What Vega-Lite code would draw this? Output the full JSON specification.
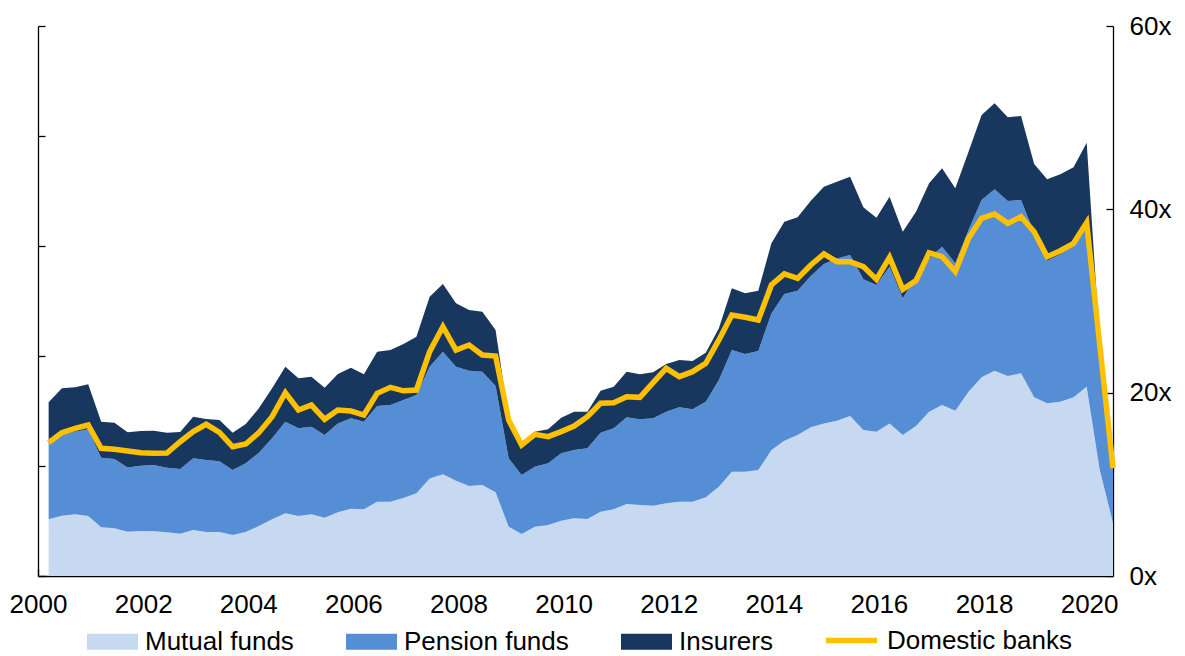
{
  "$schema": "https://vega.github.io/schema/vega-lite/v6.json",
  "width": 1075,
  "height": 550,
  "autosize": {"type": "none"},
  "padding": {"left": 38, "top": 26, "right": 72, "bottom": 80},
  "background": "white",
  "config": {
    "view": {"stroke": null},
    "font": "Liberation Sans",
    "axis": {"domainColor": "black", "tickColor": "black", "labelColor": "black", "labelFontSize": 26, "labelFont": "Liberation Sans", "grid": false, "domainWidth": 1.3, "tickWidth": 1.3},
    "legend": {"labelFont": "Liberation Sans", "labelFontSize": 26, "labelColor": "black", "padding": 0, "labelLimit": 0}
  },
  "data": {"values": [
    {"date":"2000-03-15","Mutual funds":6.18,"Pension funds":8.29,"Insurers":4.48,"Domestic banks":14.55},
    {"date":"2000-06-15","Mutual funds":6.58,"Pension funds":8.8,"Insurers":5.09,"Domestic banks":15.64},
    {"date":"2000-09-15","Mutual funds":6.73,"Pension funds":9.02,"Insurers":4.83,"Domestic banks":16.11},
    {"date":"2000-12-15","Mutual funds":6.55,"Pension funds":9.45,"Insurers":4.91,"Domestic banks":16.47},
    {"date":"2001-03-15","Mutual funds":5.31,"Pension funds":7.6,"Insurers":3.93,"Domestic banks":13.93},
    {"date":"2001-06-15","Mutual funds":5.2,"Pension funds":7.56,"Insurers":3.97,"Domestic banks":13.82},
    {"date":"2001-09-15","Mutual funds":4.84,"Pension funds":7.01,"Insurers":3.82,"Domestic banks":13.64},
    {"date":"2001-12-15","Mutual funds":4.91,"Pension funds":7.13,"Insurers":3.78,"Domestic banks":13.45},
    {"date":"2002-03-15","Mutual funds":4.87,"Pension funds":7.24,"Insurers":3.74,"Domestic banks":13.38},
    {"date":"2002-06-15","Mutual funds":4.76,"Pension funds":7.06,"Insurers":3.82,"Domestic banks":13.42},
    {"date":"2002-09-15","Mutual funds":4.62,"Pension funds":7.05,"Insurers":4.04,"Domestic banks":14.65},
    {"date":"2002-12-15","Mutual funds":5.02,"Pension funds":7.82,"Insurers":4.54,"Domestic banks":15.75},
    {"date":"2003-03-15","Mutual funds":4.8,"Pension funds":7.85,"Insurers":4.48,"Domestic banks":16.55},
    {"date":"2003-06-15","Mutual funds":4.8,"Pension funds":7.71,"Insurers":4.51,"Domestic banks":15.67},
    {"date":"2003-09-15","Mutual funds":4.47,"Pension funds":7.09,"Insurers":4.08,"Domestic banks":14.1},
    {"date":"2003-12-15","Mutual funds":4.8,"Pension funds":7.49,"Insurers":4.29,"Domestic banks":14.4},
    {"date":"2004-03-15","Mutual funds":5.45,"Pension funds":8.0,"Insurers":4.84,"Domestic banks":15.64},
    {"date":"2004-06-15","Mutual funds":6.18,"Pension funds":8.84,"Insurers":5.45,"Domestic banks":17.38},
    {"date":"2004-09-15","Mutual funds":6.84,"Pension funds":10.0,"Insurers":6.0,"Domestic banks":20.0},
    {"date":"2004-12-15","Mutual funds":6.55,"Pension funds":9.56,"Insurers":5.45,"Domestic banks":18.11},
    {"date":"2005-03-15","Mutual funds":6.73,"Pension funds":9.56,"Insurers":5.46,"Domestic banks":18.65},
    {"date":"2005-06-15","Mutual funds":6.36,"Pension funds":9.02,"Insurers":5.17,"Domestic banks":17.09},
    {"date":"2005-09-15","Mutual funds":6.95,"Pension funds":9.7,"Insurers":5.39,"Domestic banks":18.11},
    {"date":"2005-12-15","Mutual funds":7.35,"Pension funds":9.85,"Insurers":5.53,"Domestic banks":18.0},
    {"date":"2006-03-15","Mutual funds":7.27,"Pension funds":9.57,"Insurers":5.16,"Domestic banks":17.56},
    {"date":"2006-06-15","Mutual funds":8.11,"Pension funds":10.44,"Insurers":5.92,"Domestic banks":19.93},
    {"date":"2006-09-15","Mutual funds":8.11,"Pension funds":10.54,"Insurers":6.0,"Domestic banks":20.58},
    {"date":"2006-12-15","Mutual funds":8.5,"Pension funds":10.7,"Insurers":6.1,"Domestic banks":20.2},
    {"date":"2007-03-15","Mutual funds":9.02,"Pension funds":10.73,"Insurers":6.36,"Domestic banks":20.29},
    {"date":"2007-06-15","Mutual funds":10.65,"Pension funds":12.19,"Insurers":7.63,"Domestic banks":24.47},
    {"date":"2007-09-15","Mutual funds":11.09,"Pension funds":13.38,"Insurers":7.38,"Domestic banks":27.2},
    {"date":"2007-12-15","Mutual funds":10.4,"Pension funds":12.44,"Insurers":6.91,"Domestic banks":24.65},
    {"date":"2008-03-15","Mutual funds":9.82,"Pension funds":12.58,"Insurers":6.62,"Domestic banks":25.2},
    {"date":"2008-06-15","Mutual funds":9.93,"Pension funds":12.36,"Insurers":6.55,"Domestic banks":24.11},
    {"date":"2008-09-15","Mutual funds":9.13,"Pension funds":11.6,"Insurers":6.11,"Domestic banks":24.0},
    {"date":"2008-12-15","Mutual funds":5.38,"Pension funds":7.46,"Insurers":4.36,"Domestic banks":17.02},
    {"date":"2009-03-15","Mutual funds":4.58,"Pension funds":6.44,"Insurers":3.45,"Domestic banks":14.29},
    {"date":"2009-06-15","Mutual funds":5.38,"Pension funds":6.55,"Insurers":3.82,"Domestic banks":15.45},
    {"date":"2009-09-15","Mutual funds":5.56,"Pension funds":6.73,"Insurers":3.71,"Domestic banks":15.2},
    {"date":"2009-12-15","Mutual funds":6.04,"Pension funds":7.34,"Insurers":3.89,"Domestic banks":15.75},
    {"date":"2010-03-15","Mutual funds":6.29,"Pension funds":7.46,"Insurers":4.18,"Domestic banks":16.36},
    {"date":"2010-06-15","Mutual funds":6.22,"Pension funds":7.71,"Insurers":4.0,"Domestic banks":17.38},
    {"date":"2010-09-15","Mutual funds":7.02,"Pension funds":8.62,"Insurers":4.58,"Domestic banks":18.84},
    {"date":"2010-12-15","Mutual funds":7.27,"Pension funds":8.84,"Insurers":4.54,"Domestic banks":18.91},
    {"date":"2011-03-15","Mutual funds":7.85,"Pension funds":9.46,"Insurers":4.98,"Domestic banks":19.56},
    {"date":"2011-06-15","Mutual funds":7.75,"Pension funds":9.34,"Insurers":4.91,"Domestic banks":19.49},
    {"date":"2011-09-15","Mutual funds":7.67,"Pension funds":9.53,"Insurers":5.02,"Domestic banks":21.09},
    {"date":"2011-12-15","Mutual funds":7.93,"Pension funds":10.0,"Insurers":5.2,"Domestic banks":22.65},
    {"date":"2012-03-15","Mutual funds":8.11,"Pension funds":10.29,"Insurers":5.16,"Domestic banks":21.75},
    {"date":"2012-06-15","Mutual funds":8.11,"Pension funds":10.07,"Insurers":5.27,"Domestic banks":22.29},
    {"date":"2012-09-15","Mutual funds":8.58,"Pension funds":10.44,"Insurers":5.34,"Domestic banks":23.2},
    {"date":"2012-12-15","Mutual funds":9.75,"Pension funds":11.63,"Insurers":5.64,"Domestic banks":25.75},
    {"date":"2013-03-15","Mutual funds":11.38,"Pension funds":13.27,"Insurers":6.73,"Domestic banks":28.47},
    {"date":"2013-06-15","Mutual funds":11.38,"Pension funds":12.84,"Insurers":6.62,"Domestic banks":28.22},
    {"date":"2013-09-15","Mutual funds":11.56,"Pension funds":12.99,"Insurers":6.58,"Domestic banks":27.93},
    {"date":"2013-12-15","Mutual funds":13.75,"Pension funds":14.9,"Insurers":7.64,"Domestic banks":31.75},
    {"date":"2014-03-15","Mutual funds":14.76,"Pension funds":16.0,"Insurers":7.89,"Domestic banks":32.95},
    {"date":"2014-06-15","Mutual funds":15.38,"Pension funds":15.75,"Insurers":8.0,"Domestic banks":32.47},
    {"date":"2014-09-15","Mutual funds":16.22,"Pension funds":16.51,"Insurers":8.22,"Domestic banks":33.93},
    {"date":"2014-12-15","Mutual funds":16.65,"Pension funds":17.39,"Insurers":8.43,"Domestic banks":35.13},
    {"date":"2015-03-15","Mutual funds":16.95,"Pension funds":17.7,"Insurers":8.37,"Domestic banks":34.29},
    {"date":"2015-06-15","Mutual funds":17.45,"Pension funds":17.57,"Insurers":8.54,"Domestic banks":34.29},
    {"date":"2015-09-15","Mutual funds":15.93,"Pension funds":16.43,"Insurers":7.86,"Domestic banks":33.75},
    {"date":"2015-12-15","Mutual funds":15.75,"Pension funds":16.0,"Insurers":7.34,"Domestic banks":32.36},
    {"date":"2016-03-15","Mutual funds":16.65,"Pension funds":17.1,"Insurers":7.63,"Domestic banks":34.76},
    {"date":"2016-06-15","Mutual funds":15.38,"Pension funds":14.91,"Insurers":7.27,"Domestic banks":31.27},
    {"date":"2016-09-15","Mutual funds":16.36,"Pension funds":16.29,"Insurers":7.1,"Domestic banks":32.22},
    {"date":"2016-12-15","Mutual funds":17.93,"Pension funds":16.72,"Insurers":8.19,"Domestic banks":35.27},
    {"date":"2017-03-15","Mutual funds":18.65,"Pension funds":17.28,"Insurers":8.54,"Domestic banks":34.85},
    {"date":"2017-06-15","Mutual funds":18.04,"Pension funds":16.07,"Insurers":8.18,"Domestic banks":33.2},
    {"date":"2017-09-15","Mutual funds":20.11,"Pension funds":17.64,"Insurers":8.54,"Domestic banks":36.84},
    {"date":"2017-12-15","Mutual funds":21.67,"Pension funds":19.35,"Insurers":9.27,"Domestic banks":39.02},
    {"date":"2018-03-15","Mutual funds":22.4,"Pension funds":19.78,"Insurers":9.38,"Domestic banks":39.49},
    {"date":"2018-06-15","Mutual funds":21.82,"Pension funds":19.09,"Insurers":9.13,"Domestic banks":38.47},
    {"date":"2018-09-15","Mutual funds":22.11,"Pension funds":18.91,"Insurers":9.16,"Domestic banks":39.2},
    {"date":"2018-12-15","Mutual funds":19.49,"Pension funds":17.89,"Insurers":7.57,"Domestic banks":37.56},
    {"date":"2019-03-15","Mutual funds":18.84,"Pension funds":15.56,"Insurers":8.87,"Domestic banks":34.84},
    {"date":"2019-06-15","Mutual funds":19.02,"Pension funds":16.08,"Insurers":8.72,"Domestic banks":35.49},
    {"date":"2019-09-15","Mutual funds":19.49,"Pension funds":16.51,"Insurers":8.58,"Domestic banks":36.29},
    {"date":"2019-12-15","Mutual funds":20.65,"Pension funds":17.65,"Insurers":8.97,"Domestic banks":38.55},
    {"date":"2020-03-15","Mutual funds":11.56,"Pension funds":12.94,"Insurers":1.0,"Domestic banks":25.2},
    {"date":"2020-06-15","Mutual funds":5.78,"Pension funds":6.12,"Insurers":0,"Domestic banks":11.75}
  ]},
  "layer": [
    {
      "transform": [
        {"fold": ["Mutual funds", "Pension funds", "Insurers"], "as": ["series", "v"]},
        {"calculate": "indexof(['Mutual funds','Pension funds','Insurers'], datum.series)", "as": "ord"}
      ],
      "mark": {"type": "area", "interpolate": "linear"},
      "encoding": {
        "x": {
          "field": "date", "type": "temporal",
          "scale": {"type": "utc", "domain": [{"year": 2000, "month": 1, "date": 1, "utc": true}, {"year": 2020, "month": 6, "date": 15, "utc": true}]},
          "axis": {"orient": "bottom", "title": null, "tickCount": {"interval": "year", "step": 1}, "labelExpr": "utcyear(datum.value) % 2 === 0 ? utcFormat(datum.value, '%Y') : ''", "tickSize": -7, "labelPadding": 22, "labelOverlap": false, "labelFlush": false}
        },
        "y": {
          "field": "v", "type": "quantitative", "stack": "zero",
          "scale": {"domain": [0, 60]},
          "axis": {"orient": "left", "title": null, "values": [0, 12, 24, 36, 48, 60], "labels": false, "tickSize": -7}
        },
        "fill": {
          "field": "series", "type": "nominal",
          "scale": {"domain": ["Mutual funds", "Pension funds", "Insurers"], "range": ["#C6D9F1", "#558ED5", "#17375E"]},
          "legend": {"orient": "none", "legendX": 49, "legendY": 590, "direction": "horizontal", "title": null, "symbolType": "M-1,-0.314H1V0.314H-1Z", "symbolSize": 2601, "symbolStrokeWidth": 0, "symbolOpacity": 1, "columnPadding": 52, "labelOffset": 7}
        },
        "order": {"field": "ord", "type": "quantitative", "sort": "ascending"}
      }
    },
    {
      "mark": {"type": "line", "strokeWidth": 5.5, "color": "#FFC000"},
      "encoding": {
        "x": {"field": "date", "type": "temporal"},
        "y": {
          "field": "Domestic banks", "type": "quantitative",
          "axis": {"orient": "right", "title": null, "values": [0, 20, 40, 60], "labelExpr": "datum.value + 'x'", "tickSize": -7, "labelPadding": 23}
        },
        "stroke": {
          "datum": "Domestic banks",
          "scale": {"range": ["#FFC000"]},
          "legend": {"orient": "none", "legendX": 785, "legendY": 586, "title": null, "symbolType": "stroke", "symbolSize": 2601, "symbolStrokeWidth": 5.5, "labelOffset": 7}
        }
      }
    }
  ],
  "resolve": {"scale": {"y": "shared"}, "axis": {"y": "independent"}}
}
